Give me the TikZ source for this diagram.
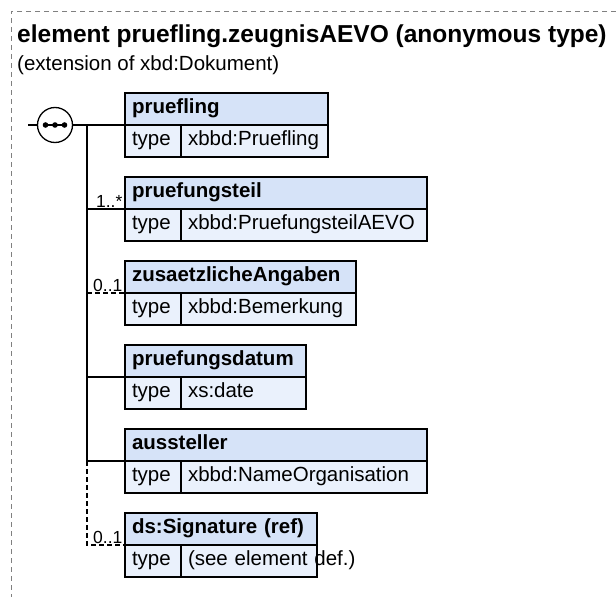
\documentclass[tikz,border=0pt]{standalone}
\usepackage{fontspec}
\setmainfont{Liberation Sans}
\usepackage{tikz}
\usetikzlibrary{positioning}
\definecolor{hdrblue}{HTML}{D6E3F8}
\definecolor{rowblue}{HTML}{EAF1FC}
\tikzstyle{hdr} = [rectangle, draw, line width=1.3pt, fill=hdrblue, anchor=north west, minimum height=32pt, inner xsep=7pt, outer sep=0pt, text height=14pt, text depth=5pt, font=\fontsize{20.5}{22}\selectfont\bfseries, align=left]
\tikzstyle{typecell} = [rectangle, draw, line width=1.3pt, fill=rowblue, anchor=north west, minimum height=32pt, text width=42pt, inner xsep=7pt, outer sep=0pt, text height=14pt, text depth=5pt, font=\fontsize{20.5}{22}\selectfont, align=left]
\tikzstyle{valcell} = [typecell, anchor=north west]
\tikzstyle{conn} = [line width=1.3pt]
\tikzstyle{optconn} = [line width=1.3pt, dash pattern=on 5pt off 3pt]
\tikzstyle{occur} = [above left, inner xsep=2pt, inner ysep=1pt, font=\fontsize{17.5}{19}\selectfont]

\begin{document}
\begin{tikzpicture}[x=1pt, y=-1pt]
    \useasboundingbox (0,0) rectangle (616,597);

        % frame
        \draw [gray, line width=0.8pt, dash pattern=on 5pt off 4pt] (616,11) -- (11,11) -- (11,597);
        \node (title) [anchor=base west, inner sep=0pt, font=\fontsize{24.5}{26}\selectfont\bfseries] at (17,42) {element pruefling.zeugnisAEVO (anonymous type)};
        \node (ext) [anchor=base west, inner sep=0pt, font=\fontsize{20.5}{22}\selectfont] at (17,70) {(extension of xbd:Dokument)};

        % sequence
        \node (seq) [circle, draw, line width=1.3pt, minimum size=35pt, inner sep=0pt, fill=white] at (55,125) {};
        \coordinate (seq_in) at (28,125);
        \coordinate (trunk_top) at (87,125);
        \draw [line width=1.3pt] (44,125) -- (66,125);
        \fill (45.5,125) circle (2.8pt) (55,125) circle (2.8pt) (64.5,125) circle (2.8pt);

        % nodes
        \node (pruefling) [hdr, text width=189pt] at (125,93) {pruefling};
        \node (pruefling_t) [typecell] at (pruefling.south west) {type};
        \node (pruefling_v) [valcell, text width=133pt] at (pruefling_t.north east) {xbbd:Pruefling};

        \node (pruefungsteil) [hdr, text width=288pt] at (125,177) {pruefungsteil};
        \node (pruefungsteil_t) [typecell] at (pruefungsteil.south west) {type};
        \node (pruefungsteil_v) [valcell, text width=232pt] at (pruefungsteil_t.north east) {xbbd:PruefungsteilAEVO};

        \node (angaben) [hdr, text width=217pt] at (125,261) {zusaetzlicheAngaben};
        \node (angaben_t) [typecell] at (angaben.south west) {type};
        \node (angaben_v) [valcell, text width=161pt] at (angaben_t.north east) {xbbd:Bemerkung};

        \node (datum) [hdr, text width=167pt] at (125,345) {pruefungsdatum};
        \node (datum_t) [typecell] at (datum.south west) {type};
        \node (datum_v) [valcell, text width=111pt] at (datum_t.north east) {xs:date};

        \node (aussteller) [hdr, text width=288pt] at (125,429) {aussteller};
        \node (aussteller_t) [typecell] at (aussteller.south west) {type};
        \node (aussteller_v) [valcell, text width=232pt] at (aussteller_t.north east) {xbbd:NameOrganisation};

        \node (signature) [hdr, text width=178pt] at (125,513) {ds:Signature (ref)};
        \node (signature_t) [typecell] at (signature.south west) {type};
        \node (signature_v) [valcell, text width=122pt] at (signature_t.north east) {\makebox[122pt][l]{(see element def.)}};

        % edges
        \draw [conn] (seq_in) -- (seq.west);
        \draw [conn] (seq.east) -- (pruefling.south west);
        \draw [conn] (trunk_top) -- (aussteller.south west -| trunk_top);
        \draw [conn] (pruefungsteil.south west -| trunk_top) -- (pruefungsteil.south west) node [occur] {1..*};
        \draw [optconn] (angaben.south west -| trunk_top) -- (angaben.south west) node [occur] {0..1};
        \draw [conn] (datum.south west -| trunk_top) -- (datum.south west);
        \draw [conn] (aussteller.south west -| trunk_top) -- (aussteller.south west);
        \draw [optconn] (aussteller.south west -| trunk_top) -- (signature.south west -| trunk_top) -- (signature.south west) node [occur] {0..1};

    \end{tikzpicture}
\end{document}
